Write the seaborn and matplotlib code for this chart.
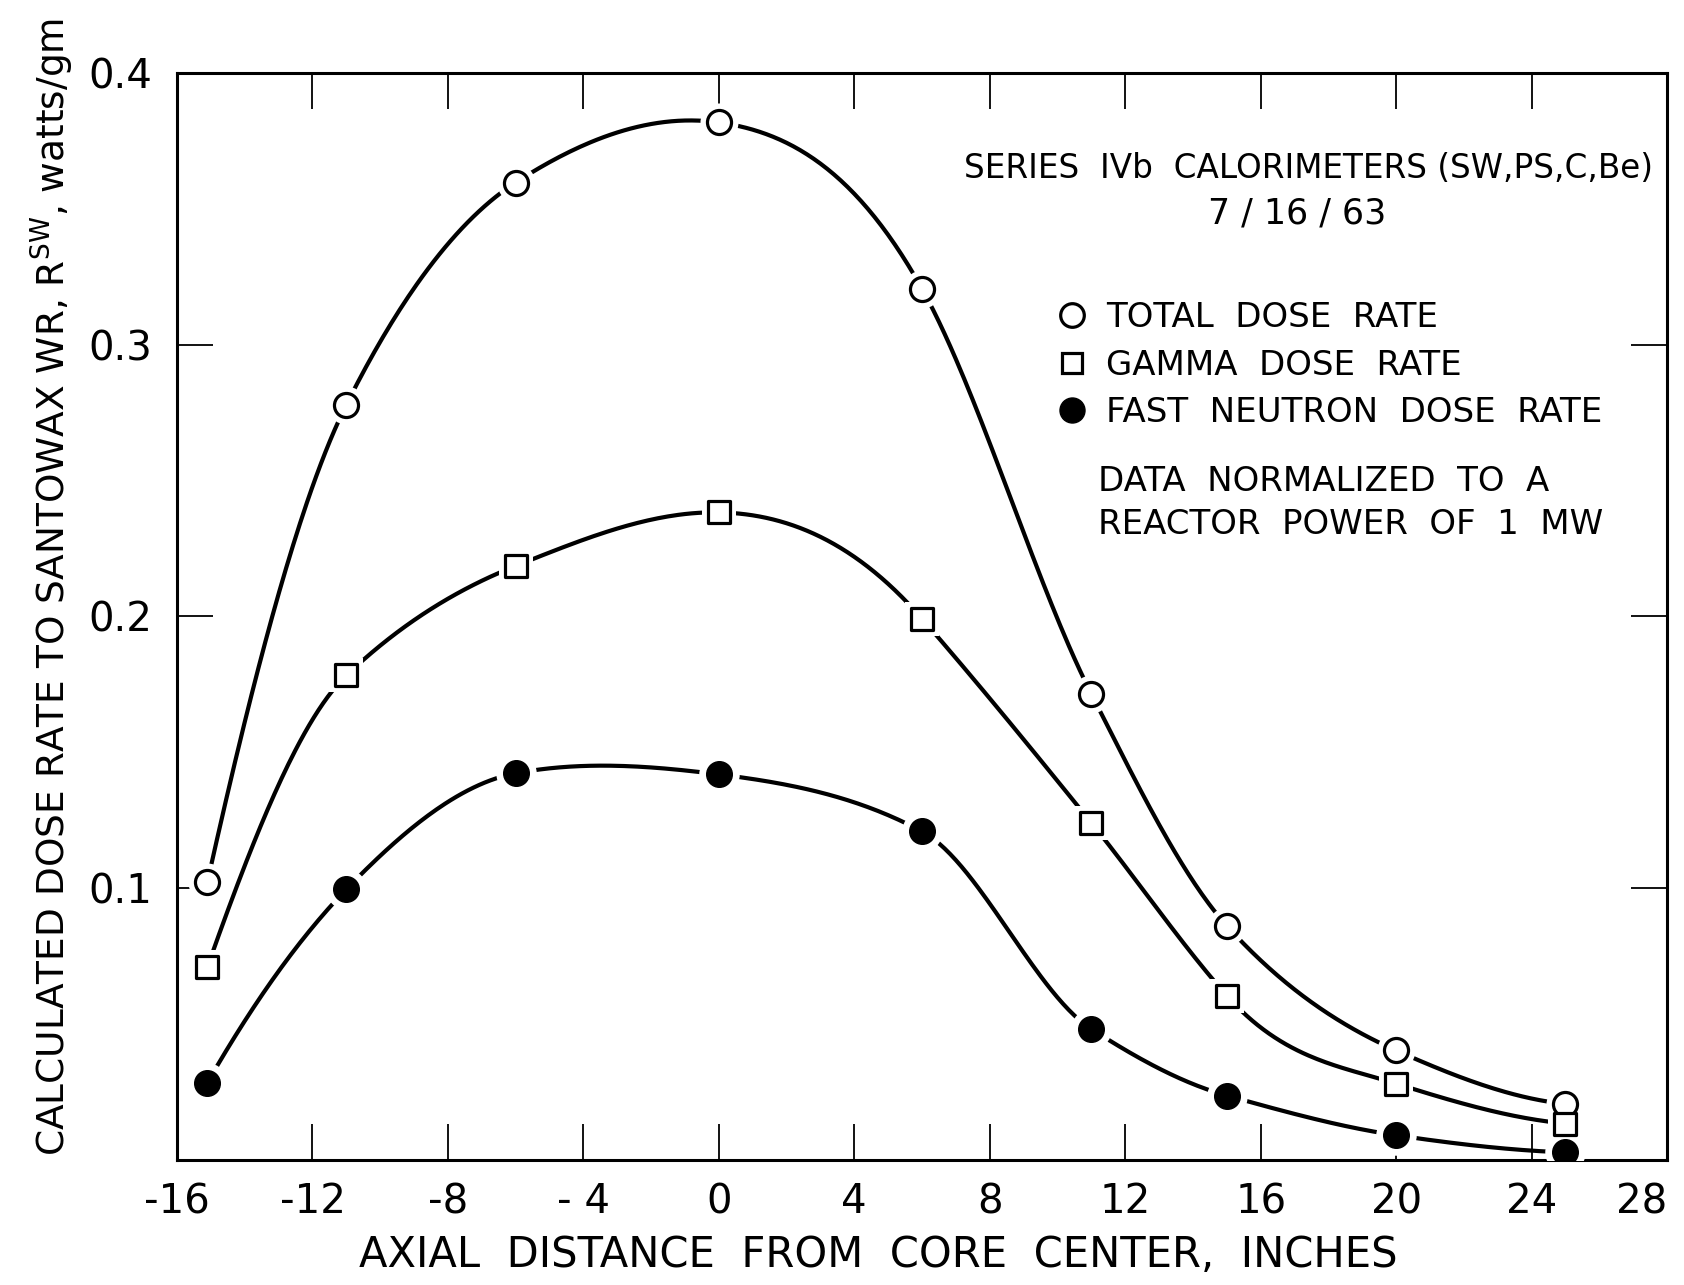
import numpy as np
import pandas as pd
import matplotlib
matplotlib.use("Agg")
import matplotlib.pyplot as plt
from matplotlib.lines import Line2D
import seaborn as sns

# ---- data ----
x_pos = [-15.1, -11, -6, 0, 6, 11, 15, 20, 25]
total_dose = [0.1024, 0.2779, 0.3597, 0.3818, 0.3206, 0.1715, 0.0862, 0.0403, 0.0206]
gamma_dose = [0.0711, 0.1783, 0.2186, 0.2383, 0.1992, 0.1241, 0.0605, 0.0281, 0.0134]
neutron_dose = [0.0285, 0.0996, 0.1423, 0.1419, 0.1209, 0.0482, 0.0237, 0.0091, 0.0028]

x_ticks = [-16, -12, -8, -4, 0, 4, 8, 12, 16, 20, 24, 28]
x_ticklabels = ["-16", "-12", "-8", "- 4", "0", "4", "8", "12", "16", "20", "24", "28"]
y_ticks = [0.1, 0.2, 0.3, 0.4]
y_ticklabels = ["0.1", "0.2", "0.3", "0.4"]
series_labels = ["TOTAL  DOSE  RATE", "GAMMA  DOSE  RATE", "FAST  NEUTRON  DOSE  RATE"]


def smooth_curve(x, y, per_seg=60):
    """Akima-type cubic Hermite curve through the points."""
    x = np.asarray(x, float)
    y = np.asarray(y, float)
    h = np.diff(x)
    m = np.diff(y) / h
    n = len(x)
    mm = np.empty(len(m) + 4)
    mm[2:-2] = m
    mm[1] = 2 * m[0] - m[1]
    mm[0] = 2 * mm[1] - m[0]
    mm[-2] = 2 * m[-1] - m[-2]
    mm[-1] = 2 * mm[-2] - m[-1]
    d = np.empty(n)
    for i in range(n):
        m_im2, m_im1, m_i, m_ip1 = mm[i], mm[i + 1], mm[i + 2], mm[i + 3]
        w1 = abs(m_ip1 - m_i)
        w2 = abs(m_im1 - m_im2)
        if w1 + w2 < 1e-12:
            d[i] = 0.5 * (m_im1 + m_i)
        else:
            d[i] = (w1 * m_im1 + w2 * m_i) / (w1 + w2)
    xs_all, ys_all = [], []
    for i in range(n - 1):
        t = np.linspace(0, 1, per_seg, endpoint=(i == n - 2))
        h00 = 2 * t ** 3 - 3 * t ** 2 + 1
        h10 = t ** 3 - 2 * t ** 2 + t
        h01 = -2 * t ** 3 + 3 * t ** 2
        h11 = t ** 3 - t ** 2
        xs_all.append(x[i] + t * h[i])
        ys_all.append(h00 * y[i] + h10 * h[i] * d[i] + h01 * y[i + 1] + h11 * h[i] * d[i + 1])
    return np.concatenate(xs_all), np.concatenate(ys_all)


sns.set_style("ticks")
plt.rcParams["font.family"] = ["DejaVu Sans"]
plt.rcParams["text.color"] = "black"
plt.rcParams["axes.labelcolor"] = "black"
plt.rcParams["xtick.color"] = "black"
plt.rcParams["ytick.color"] = "black"

fig = plt.figure(figsize=(16.84, 12.85), dpi=100)
ax = fig.add_axes([0.1051, 0.0973, 0.8848, 0.8459])

series = [
    (total_dose, "o", 300, "white", 2.3),
    (gamma_dose, "s", 240, "white", 2.3),
    (neutron_dose, "o", 340, "black", 1.0),
]

for vals, mk, s, fc, ew in series:
    xs, ys = smooth_curve(x_pos, vals)
    sns.lineplot(x=xs, y=ys, ax=ax, color="black", lw=3.0, zorder=2, sort=False)
    df = pd.DataFrame({"x": x_pos, "y": vals})
    sns.scatterplot(data=df, x="x", y="y", ax=ax, marker=mk, s=s * 2.5,
                    color="white", edgecolor="white", linewidth=0, zorder=3)
    sns.scatterplot(data=df, x="x", y="y", ax=ax, marker=mk, s=s,
                    facecolor=fc, edgecolor="black", linewidth=ew, zorder=4)

ax.set_xlim(-16, 28)
ax.set_ylim(0, 0.4)
ax.set_xticks(x_ticks)
ax.set_xticklabels(x_ticklabels)
ax.set_yticks(y_ticks)
ax.set_yticklabels(y_ticklabels)
ax.tick_params(axis="both", direction="in", top=True, right=True,
               length=26, width=1.3, labelsize=29, colors="black")
ax.tick_params(axis="x", pad=16)
ax.tick_params(axis="y", pad=18)
ax.get_xticklabels()[-1].set_ha("right")
for sp in ax.spines.values():
    sp.set_visible(True)
    sp.set_linewidth(2.2)
    sp.set_color("black")

ax.set_xlabel("AXIAL  DISTANCE  FROM  CORE  CENTER,  INCHES", fontsize=30, color="black")
ax.xaxis.set_label_coords(0.471, -0.068)
ax.set_ylabel(r"CALCULATED DOSE RATE TO SANTOWAX WR, R$^{\mathrm{SW}}$, watts/gm",
              fontsize=27, fontfamily="Liberation Sans Narrow", color="black")
ax.yaxis.set_label_coords(-0.068, 0.527)

ax.text(0.528, 0.912, "SERIES  IVb  CALORIMETERS (SW,PS,C,Be)", transform=ax.transAxes,
        fontsize=23.5, ha="left", va="center", color="black")
ax.text(0.752, 0.871, "7 / 16 / 63", transform=ax.transAxes,
        fontsize=25, ha="center", va="center", color="black")

handles = [
    Line2D([], [], ls="none", marker="o", ms=17, mfc="white", mec="black", mew=2.3),
    Line2D([], [], ls="none", marker="s", ms=15, mfc="white", mec="black", mew=2.3),
    Line2D([], [], ls="none", marker="o", ms=18, mfc="black", mec="black"),
]
leg = ax.legend(handles, series_labels, loc="upper left", bbox_to_anchor=(0.578, 0.806),
                frameon=False, fontsize=24.5, handletextpad=0.5, labelspacing=0.43,
                borderpad=0, handlelength=1.0, labelcolor="black")

ax.text(0.618, 0.6245, "DATA  NORMALIZED  TO  A", transform=ax.transAxes,
        fontsize=24.5, ha="left", va="center", color="black")
ax.text(0.618, 0.585, "REACTOR  POWER  OF  1  MW", transform=ax.transAxes,
        fontsize=24.5, ha="left", va="center", color="black")

fig.savefig("out.png", dpi=100, facecolor="white")
